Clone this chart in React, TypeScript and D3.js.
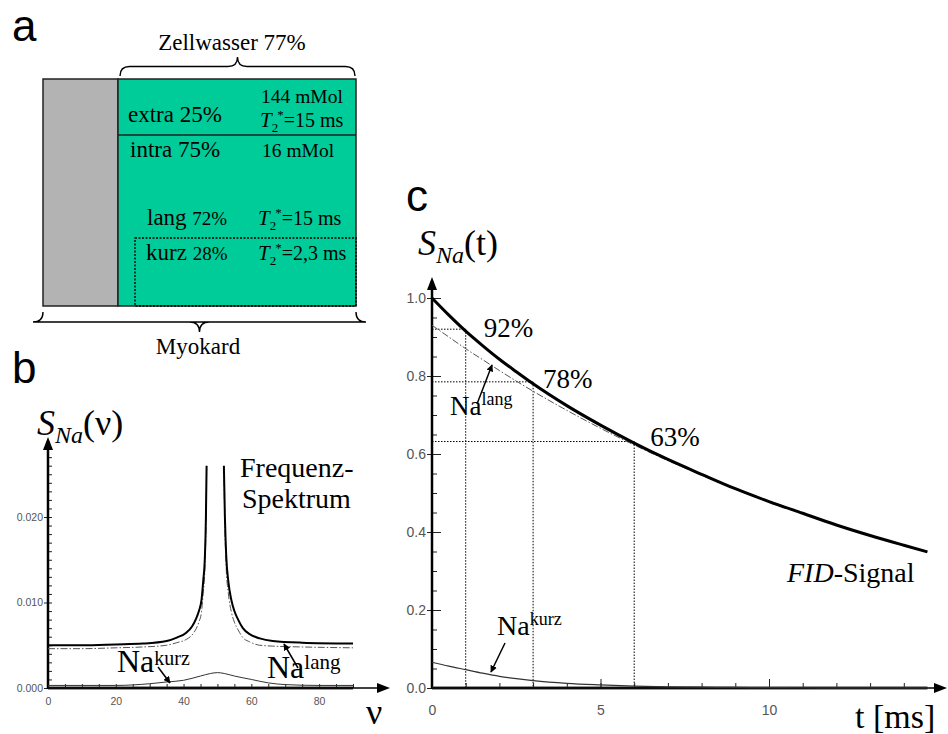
import React, { useEffect, useRef } from 'react';
import * as d3 from 'd3';

// b: frequency spectrum (two branches around the clipped peak)
const specNuLeft = [0, 10, 20, 28, 35, 38, 40.9, 42.5, 43.8, 44.6, 45.3, 45.8, 46.3, 46.6, 46.8];
const specTotalLeft = [0.005, 0.005, 0.0051, 0.0052, 0.0055, 0.0059, 0.0065, 0.0072, 0.0082, 0.0091, 0.0103, 0.0125, 0.0154, 0.02, 0.026];
const specLangLeft = [0.0046, 0.0046, 0.0047, 0.0048, 0.005, 0.0053, 0.0057, 0.0062, 0.007, 0.0078, 0.0089, 0.0111, 0.0139, 0.0186, 0.0258];
const specNuRight = [51.9, 52.2, 52.6, 53.2, 54.1, 55.0, 56.1, 57.5, 59.5, 62.5, 66.3, 75, 90];
const specTotalRight = [0.026, 0.02, 0.0154, 0.0125, 0.0103, 0.009, 0.008, 0.007, 0.0063, 0.0058, 0.0055, 0.0053, 0.0052];
const specLangRight = [0.0258, 0.0186, 0.0139, 0.0111, 0.0089, 0.0077, 0.0068, 0.0059, 0.0054, 0.005, 0.0049, 0.0048, 0.0047];
const specNuKurz = [0, 10, 20, 30, 35, 40, 45, 48, 50, 52, 55, 60, 65, 70, 80, 90];
const specKurz = [0.0003, 0.0003, 0.0003, 0.0005, 0.0007, 0.0009, 0.0014, 0.0017, 0.0018, 0.0017, 0.0014, 0.001, 0.0006, 0.0004, 0.0003, 0.0003];
const specYTicks = [0, 0.01, 0.02];
const specXTicks = [0, 20, 40, 60, 80];

// c: FID signal
const fidT = [0, 0.5, 1, 1.5, 2, 2.5, 3, 4, 5, 6, 7, 8, 9, 10, 11, 12, 13, 14, 14.7];
const fidTotal = [1.0, 0.956, 0.915, 0.878, 0.843, 0.811, 0.78, 0.724, 0.674, 0.628, 0.586, 0.548, 0.511, 0.478, 0.448, 0.418, 0.391, 0.366, 0.349];
const fidLang = [0.93, 0.9, 0.87, 0.842, 0.814, 0.787, 0.761, 0.712, 0.666, 0.623, 0.583, 0.546, 0.51, 0.477, 0.447, 0.418, 0.391, 0.366, 0.349];
const fidKurz = [0.066, 0.056, 0.047, 0.038, 0.03, 0.024, 0.019, 0.012, 0.008, 0.005, 0.003, 0.002, 0.0014, 0.0009, 0.0006, 0.0004, 0.0002, 0.0002, 0.0001];
const guideT = [1, 3, 6];
const guideLevel = [0.92, 0.785, 0.632];
const guideLabel = ['92%', '78%', '63%'];
const fidYTicks = [0, 0.2, 0.4, 0.6, 0.8, 1.0];
const fidXTicks = [0, 5, 10];

const SERIF = 'Liberation Serif, Times New Roman, serif';
const SANS = 'Liberation Sans, Arial, sans-serif';
const GREEN = '#00cc99';

const xB = d3.scaleLinear().domain([0, 90]).range([48, 353]);
const yB = d3.scaleLinear().domain([0, 0.01]).range([688, 602.5]);
const xC = d3.scaleLinear().domain([0, 10]).range([432, 769]);
const yC = d3.scaleLinear().domain([0, 1]).range([688, 298]);

function brace(x1: number, x2: number, y: number, r: number) {
  const xm = (x1 + x2) / 2;
  return `M${x1},${y} Q${x1},${y - r} ${x1 + r},${y - r} L${xm - r},${y - r} Q${xm},${y - r} ${xm},${y - 2 * r} ` +
    `Q${xm},${y - r} ${xm + r},${y - r} L${x2 - r},${y - r} Q${x2},${y - r} ${x2},${y}`;
}

function T2({ x, y, rest }: { x: number; y: number; rest: string }) {
  return (
    <text x={x} y={y} fontFamily={SERIF} fontSize={20}>
      <tspan fontStyle="italic" fontSize={21}>T</tspan>
      <tspan fontSize={13} dy={5}>2</tspan>
      <tspan fontSize={13} dy={-13} dx={-1}>*</tspan>
      <tspan dy={8}>{rest}</tspan>
    </text>
  );
}

function Pointer({ x1, y1, x2, y2 }: { x1: number; y1: number; x2: number; y2: number }) {
  return <line x1={x1} y1={y1} x2={x2} y2={y2} stroke="#000" strokeWidth={1.5} markerEnd="url(#head)" />;
}

export default function App() {
  const bY = useRef<SVGGElement>(null);
  const bX = useRef<SVGGElement>(null);
  const cY = useRef<SVGGElement>(null);
  const cX = useRef<SVGGElement>(null);

  useEffect(() => {
    const style = (g: d3.Selection<SVGGElement, unknown, null, undefined>, size: number) => {
      g.select('.domain').remove();
      g.selectAll('.tick line').attr('stroke', '#222');
      g.selectAll('.tick text').attr('font-family', SANS).attr('font-size', size).attr('fill', '#555');
    };

    // panel b y axis: labelled majors, minor ticks every 0.001
    const gbY = d3.select(bY.current!);
    gbY.selectAll('*').remove();
    gbY.append('g').call(d3.axisLeft(yB).tickValues(d3.range(0, 0.0285, 0.001)).tickSize(-4).tickFormat(() => ''))
      .call(g => style(g, 10));
    gbY.append('g').call(d3.axisLeft(yB).tickValues(specYTicks).tickSize(4).tickPadding(1).tickFormat(d3.format('.3f')))
      .call(g => style(g, 10.5));

    const gbX = d3.select(bX.current!);
    gbX.selectAll('*').remove();
    gbX.append('g').call(d3.axisBottom(xB).tickValues(d3.range(0, 91, 5)).tickSize(-4).tickFormat(() => ''))
      .call(g => style(g, 10));
    gbX.append('g').call(d3.axisBottom(xB).tickValues(specXTicks).tickSize(0).tickPadding(10).tickFormat(d3.format('d')))
      .call(g => style(g, 10.5));

    // panel c
    const gcY = d3.select(cY.current!);
    gcY.selectAll('*').remove();
    gcY.append('g').call(d3.axisLeft(yC).tickValues(d3.range(0, 1.001, 0.05)).tickSize(-5).tickFormat(() => ''))
      .call(g => style(g, 10));
    gcY.append('g').call(d3.axisLeft(yC).tickValues(fidYTicks).tickSize(5).tickPadding(1).tickFormat(d3.format('.1f')))
      .call(g => style(g, 14));
    gcY.append('g').call(d3.axisLeft(yC).tickValues(fidYTicks).tickSize(-9).tickFormat(() => ''))
      .call(g => style(g, 10));

    const gcX = d3.select(cX.current!);
    gcX.selectAll('*').remove();
    gcX.append('g').call(d3.axisBottom(xC).tickValues(d3.range(0, 15, 1)).tickSize(-5).tickFormat(() => ''))
      .call(g => style(g, 10));
    gcX.append('g').call(d3.axisBottom(xC).tickValues(fidXTicks).tickSize(-9).tickPadding(17).tickFormat(d3.format('d')))
      .call(g => style(g, 14));
  }, []);

  const lineB = d3.line<[number, number]>().x(d => xB(d[0])).y(d => yB(d[1])).curve(d3.curveMonotoneX);
  const lineC = d3.line<[number, number]>().x(d => xC(d[0])).y(d => yC(d[1])).curve(d3.curveMonotoneX);
  const zip = (a: number[], b: number[]) => a.map((v, i) => [v, b[i]] as [number, number]);

  const y0B = yB(0);
  const y0C = yC(0);

  return (
    <svg width={948} height={734} style={{ position: 'absolute', left: 0, top: 0, background: '#fff' }}>
      <defs>
        <marker id="head" viewBox="0 0 10 10" refX="9" refY="5" markerWidth="7" markerHeight="7" orient="auto-start-reverse" markerUnits="userSpaceOnUse">
          <path d="M0,0 L10,5 L0,10 z" fill="#000" />
        </marker>
      </defs>

      {/* ---------- panel a ---------- */}
      <text x={12} y={41} fontFamily={SANS} fontSize={44}>a</text>
      <text x={232} y={50} fontFamily={SERIF} fontSize={23} textAnchor="middle">Zellwasser 77%</text>
      <path d={brace(120, 355, 76, 9.5)} fill="none" stroke="#000" strokeWidth={1.4} />
      <rect x={43} y={79} width={75} height={227} fill="#b3b3b3" stroke="#222" strokeWidth={1.5} />
      <rect x={118} y={79} width={238} height={227} fill={GREEN} stroke="#222" strokeWidth={1.5} />
      <line x1={118} y1={135} x2={356} y2={135} stroke="#222" strokeWidth={1.5} />
      <rect x={135} y={238} width={221} height={68} fill="none" stroke="#000" strokeWidth={1.4} strokeDasharray="2,1.5" />
      <text x={128} y={122} fontFamily={SERIF} fontSize={23}>extra 25%</text>
      <text x={261} y={103} fontFamily={SERIF} fontSize={19.5}>144 mMol</text>
      <T2 x={260} y={127} rest="=15 ms" />
      <text x={130} y={157} fontFamily={SERIF} fontSize={23}>intra 75%</text>
      <text x={262} y={157} fontFamily={SERIF} fontSize={19.5}>16 mMol</text>
      <text x={147} y={225} fontFamily={SERIF} fontSize={23}>lang <tspan fontSize={19}>72%</tspan></text>
      <T2 x={258} y={225} rest="=15 ms" />
      <text x={146} y={260} fontFamily={SERIF} fontSize={23}>kurz <tspan fontSize={19}>28%</tspan></text>
      <T2 x={258} y={260} rest="=2,3 ms" />
      <path d={brace(43, 356, 312, -10)} fill="none" stroke="#000" strokeWidth={1.4} />
      <text x={198} y={354} fontFamily={SERIF} fontSize={23} textAnchor="middle">Myokard</text>

      {/* ---------- panel b ---------- */}
      <text x={12} y={383} fontFamily={SANS} fontSize={44}>b</text>
      <text x={37} y={435} fontFamily={SERIF} fontSize={36}>
        <tspan fontStyle="italic">S</tspan>
        <tspan fontStyle="italic" fontSize={24} dy={8}>Na</tspan>
        <tspan dy={-8}>(ν)</tspan>
      </text>
      <g ref={bY} transform={`translate(${xB(0)},0)`} />
      <g ref={bX} transform={`translate(0,${y0B})`} />
      <line x1={xB(0)} y1={y0B + 1} x2={xB(0)} y2={441} stroke="#000" strokeWidth={2.5} />
      <path d={`M${xB(0) - 5},${450} L${xB(0)},${437} L${xB(0) + 5},${450} z`} fill="#000" />
      <line x1={xB(0)} y1={y0B} x2={xB(90)} y2={y0B} stroke="#333" strokeWidth={3} />
      <line x1={xB(0)} y1={y0B} x2={384} y2={y0B} stroke="#000" strokeWidth={1.5} />
      <path d={`M${377},${y0B - 5} L${390},${y0B} L${377},${y0B + 5} z`} fill="#000" />

      <path d={lineB(zip(specNuKurz, specKurz)) ?? ''} fill="none" stroke="#333" strokeWidth={1} />
      <path d={lineB(zip(specNuLeft, specLangLeft)) ?? ''} fill="none" stroke="#555" strokeWidth={1} strokeDasharray="7,2,1.5,2" />
      <path d={lineB(zip(specNuRight, specLangRight)) ?? ''} fill="none" stroke="#555" strokeWidth={1} strokeDasharray="7,2,1.5,2" />
      <path d={lineB(zip(specNuLeft, specTotalLeft)) ?? ''} fill="none" stroke="#000" strokeWidth={2} />
      <path d={lineB(zip(specNuRight, specTotalRight)) ?? ''} fill="none" stroke="#000" strokeWidth={2} />

      <text x={240} y={477} fontFamily={SERIF} fontSize={28}>Frequenz-</text>
      <text x={242} y={508} fontFamily={SERIF} fontSize={28}>Spektrum</text>
      <text x={117} y={672} fontFamily={SERIF} fontSize={32}>Na<tspan fontSize={20} dy={-7}>kurz</tspan></text>
      <Pointer x1={158} y1={667} x2={170} y2={683} />
      <text x={267} y={678} fontFamily={SERIF} fontSize={32}>Na<tspan fontSize={21} dy={-9}>lang</tspan></text>
      <Pointer x1={298} y1={668} x2={284} y2={644} />
      <text x={366} y={724} fontFamily={SERIF} fontSize={36}>ν</text>

      {/* ---------- panel c ---------- */}
      <text x={406} y={211} fontFamily={SANS} fontSize={44}>c</text>
      <text x={418} y={255} fontFamily={SERIF} fontSize={36}>
        <tspan fontStyle="italic">S</tspan>
        <tspan fontStyle="italic" fontSize={24} dy={8}>Na</tspan>
        <tspan dy={-8}>(t)</tspan>
      </text>
      <g ref={cY} transform={`translate(${xC(0)},0)`} />
      <g ref={cX} transform={`translate(0,${y0C})`} />

      {guideT.map((t, i) => (
        <g key={t} stroke="#000" strokeWidth={1} strokeDasharray="1.5,1.5" fill="none">
          <line x1={xC(0)} y1={yC(guideLevel[i])} x2={xC(t)} y2={yC(guideLevel[i])} />
          <line x1={xC(t)} y1={yC(guideLevel[i])} x2={xC(t)} y2={y0C} />
        </g>
      ))}

      <line x1={xC(0)} y1={y0C + 1} x2={xC(0)} y2={281} stroke="#000" strokeWidth={2.5} />
      <path d={`M${xC(0) - 5},${290} L${xC(0)},${277} L${xC(0) + 5},${290} z`} fill="#000" />
      <line x1={xC(0)} y1={y0C} x2={xC(14.7)} y2={y0C} stroke="#333" strokeWidth={3} />
      <line x1={xC(0)} y1={y0C} x2={940} y2={y0C} stroke="#000" strokeWidth={1.5} />
      <path d={`M${934},${y0C - 5} L${947},${y0C} L${934},${y0C + 5} z`} fill="#000" />

      <path d={lineC(zip(fidT, fidKurz)) ?? ''} fill="none" stroke="#333" strokeWidth={1.2} />
      <path d={lineC(zip(fidT, fidLang)) ?? ''} fill="none" stroke="#555" strokeWidth={1} strokeDasharray="7,2,1.5,2" />
      <path d={lineC(zip(fidT, fidTotal)) ?? ''} fill="none" stroke="#000" strokeWidth={3} />

      {guideLabel.map((s, i) => (
        <text key={s} x={xC(guideT[i]) + [18, 10, 16][i]} y={yC(guideLevel[i]) + [8, 6, 4][i]} fontFamily={SERIF} fontSize={27}>{s}</text>
      ))}

      <text x={450} y={415} fontFamily={SERIF} fontSize={27}>Na<tspan fontSize={18} dy={-10}>lang</tspan></text>
      <Pointer x1={477} y1={404} x2={492} y2={365} />
      <text x={787} y={582} fontFamily={SERIF} fontSize={28}><tspan fontStyle="italic">FID</tspan>-Signal</text>
      <text x={497} y={635} fontFamily={SERIF} fontSize={28}>Na<tspan fontSize={18} dy={-10}>kurz</tspan></text>
      <Pointer x1={505} y1={643} x2={491} y2={672} />
      <text x={855} y={728} fontFamily={SERIF} fontSize={34}>t [ms]</text>
    </svg>
  );
}
